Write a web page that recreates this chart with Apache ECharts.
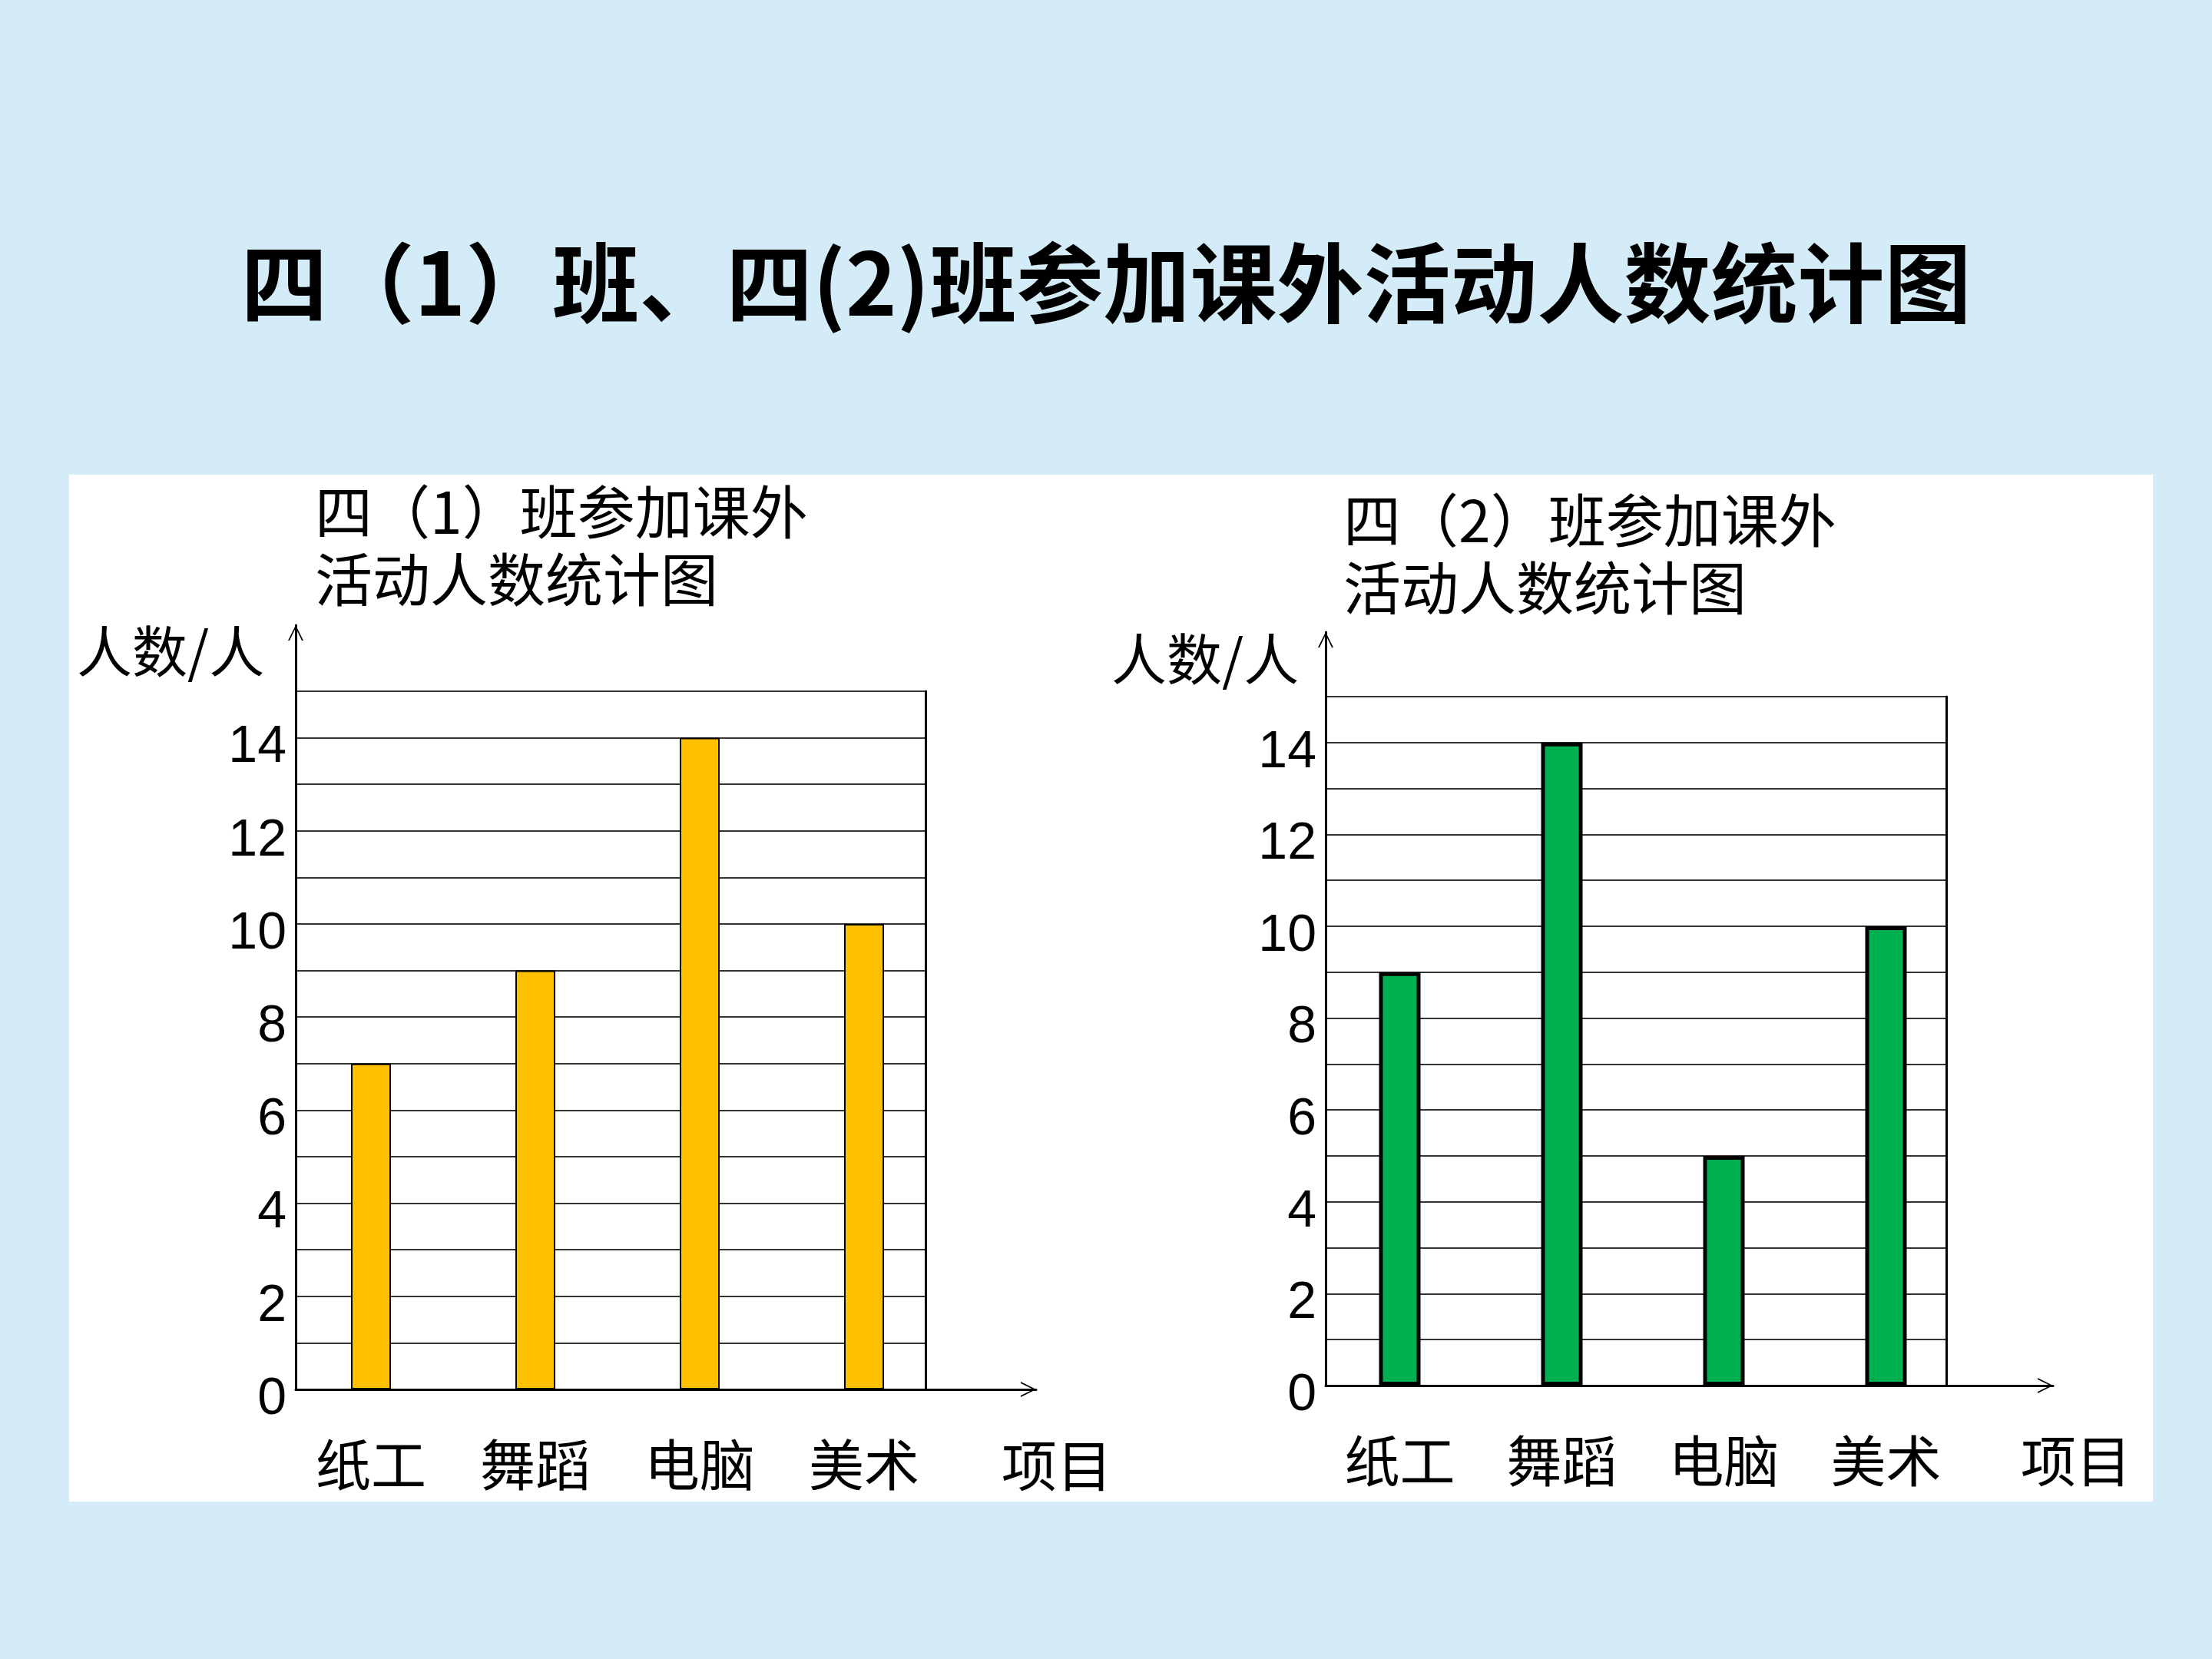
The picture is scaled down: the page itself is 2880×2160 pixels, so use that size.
<!DOCTYPE html>
<html>
<head>
    <meta charset="UTF-8">
    <title>四（1）班、四(2)班参加课外活动人数统计图</title>
    <script src="https://cdn.jsdelivr.net/npm/echarts@6/dist/echarts.min.js"></script>
    <style>
        body, html {
            margin: 0;
            padding: 0;
            height: 100%;
        }

        #main {
            width: 2880px;
            height: 2160px;
        }
    </style>
</head>
<body>
<div id="main"></div>
<script>
    // 数据
    var categories = ['纸工', '舞蹈', '电脑', '美术'];
    var class1 = [7, 9, 14, 10];
    var class2 = [9, 14, 5, 10];
    var yMax = 15;

    var chart = echarts.init(document.getElementById('main'), null, {renderer: 'canvas'});
    var cjk = 'Noto Sans CJK SC';

    var grids = [], xAxes = [], yAxes = [], series = [], titles = [];

    // 箭头（开口）
    var chevron = 'path://M0,100 L50,0 L100,100 L90,100 L50,18 L10,100 Z';

    function addPanel(p) {
        var g = grids.length;
        // 0: 柱子网格, 1: 横线网格, 2: 箭头坐标轴
        grids.push({left: p.barLeft, top: p.top, width: p.barWidth, height: p.height});
        grids.push({left: p.axisX, top: p.top, width: p.lineWidth, height: p.height});
        grids.push({left: p.axisX, top: p.arrowTop, width: p.arrowWidth, height: p.top + p.height - p.arrowTop});

        var xa = xAxes.length, ya = yAxes.length;
        xAxes.push({
            gridIndex: g, type: 'category', data: categories,
            axisLine: {show: false}, axisTick: {show: false},
            axisLabel: {fontSize: 72, margin: 62, color: '#000', fontFamily: cjk}
        });
        yAxes.push({gridIndex: g, type: 'value', min: 0, max: yMax, show: false});

        xAxes.push({gridIndex: g + 1, type: 'value', min: 0, max: 1, show: false});
        yAxes.push({
            gridIndex: g + 1, type: 'value', min: 0, max: yMax, interval: 1,
            axisLine: {show: false}, axisTick: {show: false},
            axisLabel: {
                fontSize: 68, color: '#000', fontFamily: 'Liberation Sans', margin: 12,
                verticalAlign: 'top', lineHeight: 26,
                formatter: function (v) { return (v % 2 === 0 && v < yMax) ? String(v) : ''; }
            },
            splitLine: {lineStyle: {color: '#333', width: 2}}
        });
        yAxes.push({
            gridIndex: g + 1, type: 'value', min: 0, max: yMax, position: 'right',
            axisLine: {show: true, lineStyle: {color: '#000', width: 3}},
            axisTick: {show: false}, axisLabel: {show: false}, splitLine: {show: false}
        });

        xAxes.push({
            gridIndex: g + 2, type: 'value', min: 0, max: 1,
            axisLine: {onZero: false, symbol: ['none', chevron], symbolSize: [22, 20], symbolOffset: [0, -10],
                lineStyle: {color: '#000', width: 3}},
            axisTick: {show: false}, axisLabel: {show: false}, splitLine: {show: false}
        });
        yAxes.push({
            gridIndex: g + 2, type: 'value', min: 0, max: 1,
            axisLine: {onZero: false, symbol: ['none', chevron], symbolSize: [22, 20], symbolOffset: [0, -10],
                lineStyle: {color: '#000', width: 3}},
            axisTick: {show: false}, axisLabel: {show: false}, splitLine: {show: false}
        });

        series.push({
            type: 'bar', data: p.data, xAxisIndex: xa, yAxisIndex: ya,
            barWidth: p.bw,
            itemStyle: {color: p.color, borderColor: '#000', borderWidth: p.border}
        });

        titles.push({
            text: p.subtitle, left: p.subLeft, top: p.subTop, padding: 0,
            textStyle: {fontSize: 75, fontWeight: 'normal', color: '#000', fontFamily: cjk, lineHeight: 88}
        });
        titles.push({
            text: '人数/人', left: p.yNameLeft, top: p.yNameTop, padding: 0,
            textStyle: {fontSize: 72, fontWeight: 'normal', color: '#000', fontFamily: cjk}
        });
        titles.push({
            text: '项目', left: p.xNameLeft, top: p.xNameTop, padding: 0,
            textStyle: {fontSize: 72, fontWeight: 'normal', color: '#000', fontFamily: cjk}
        });
    }

    addPanel({
        data: class1, color: '#FFC000', border: 2, bw: 52,
        barLeft: 376, barWidth: 856, axisX: 385, lineWidth: 820,
        top: 900, height: 909, arrowTop: 814, arrowWidth: 964,
        subtitle: '四（1）班参加课外\n活动人数统计图', subLeft: 410, subTop: 622,
        yNameLeft: 100, yNameTop: 812, xNameLeft: 1304, xNameTop: 1872
    });
    addPanel({
        data: class2, color: '#00B050', border: 5, bw: 54,
        barLeft: 1717, barWidth: 844, axisX: 1726, lineWidth: 808,
        top: 907, height: 897, arrowTop: 823, arrowWidth: 947,
        subtitle: '四（2）班参加课外\n活动人数统计图', subLeft: 1749, subTop: 633,
        yNameLeft: 1447, yNameTop: 822, xNameLeft: 2631, xNameTop: 1866
    });

    titles.unshift({
        text: '四（1）班、四(2)班参加课外活动人数统计图',
        left: 'center', top: 312, padding: 0,
        textStyle: {fontSize: 113, fontWeight: 'bold', color: '#000', fontFamily: cjk}
    });

    chart.setOption({
        backgroundColor: '#d4ecf7',
        animation: false,
        graphic: [{
            type: 'rect', z: -10, silent: true,
            shape: {x: 90, y: 618, width: 2713, height: 1337},
            style: {fill: '#ffffff'}
        }],
        title: titles,
        grid: grids,
        xAxis: xAxes,
        yAxis: yAxes,
        series: series
    });
</script>
</body>
</html>
